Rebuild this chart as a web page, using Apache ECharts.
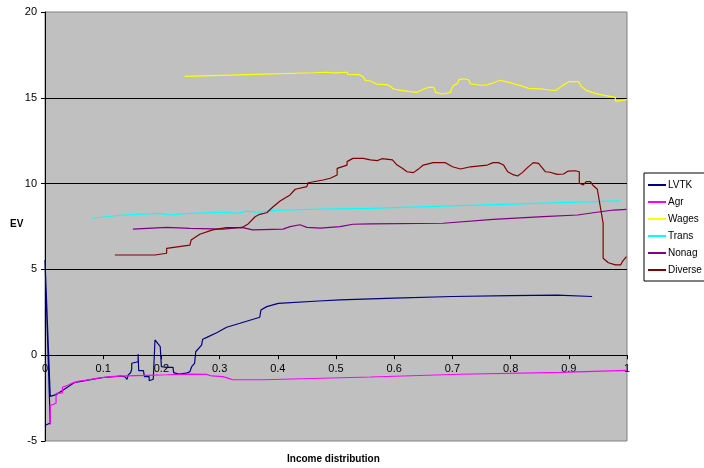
<!DOCTYPE html>
<html>
<head>
<meta charset="utf-8">
<script src="https://cdn.jsdelivr.net/npm/echarts@6/dist/echarts.min.js"></script>
<style>
  html, body { margin: 0; padding: 0; background: #ffffff; }
  #chart { width: 704px; height: 468px; }
</style>
</head>
<body>
<div id="chart"></div>
<script>
// Equivalent variation (EV) by income distribution, one line per household group.
const seriesNames = ['LVTK', 'Agr', 'Wages', 'Trans', 'Nonag', 'Diverse'];
const seriesColors = ['#000080', '#ff00ff', '#ffff00', '#00ffff', '#800080', '#800000'];

const xTicks = { min: 0, max: 1, step: 0.1 };
const yTicks = { min: -5, max: 20, step: 5 };

const lvtk = [
  [0, -4.1], [0.009, -3.95], [0, 5.55], [0.009, -2.4], [0.019, -2.3],
  [0.05, -1.6], [0.1, -1.3], [0.13, -1.22], [0.137, -1.25], [0.141, -1.40],
  [0.143, -1.15], [0.147, -1.02], [0.149, -0.82], [0.149, -0.47], [0.152, -0.38],
  [0.160, -0.38], [0.160, 0.07], [0.161, -0.90], [0.169, -0.90], [0.171, -1.25],
  [0.179, -1.25], [0.179, -1.49], [0.186, -1.40], [0.189, -1.40], [0.189, 0.89],
  [0.198, 0.50], [0.200, -0.67], [0.209, -0.71], [0.220, -0.71], [0.221, -1.02],
  [0.230, -1.10], [0.243, -1.05], [0.249, -0.96], [0.252, -0.67], [0.257, -0.47],
  [0.259, 0.20], [0.269, 0.59], [0.271, 0.93], [0.278, 1.04], [0.295, 1.31],
  [0.312, 1.63], [0.335, 1.86], [0.369, 2.21], [0.371, 2.63], [0.381, 2.83],
  [0.401, 3.02], [0.470, 3.16], [0.507, 3.22], [0.6, 3.33], [0.7, 3.42],
  [0.8, 3.47], [0.88, 3.5], [0.94, 3.42]
];

const agr = [
  [0.009, -4.05], [0.009, -2.93], [0.019, -2.80], [0.019, -2.22], [0.030, -2.19],
  [0.030, -1.87], [0.040, -1.74], [0.048, -1.61], [0.059, -1.51], [0.071, -1.45],
  [0.088, -1.35], [0.112, -1.25], [0.140, -1.21], [0.174, -1.17], [0.209, -1.14],
  [0.249, -1.10], [0.278, -1.12], [0.286, -1.21], [0.306, -1.25], [0.318, -1.38],
  [0.323, -1.43], [0.375, -1.43], [0.559, -1.27], [0.714, -1.11], [0.886, -1.00],
  [1.0, -0.88]
];

const wages = [
  [0.240, 16.25], [0.364, 16.37], [0.461, 16.46], [0.484, 16.49], [0.498, 16.45],
  [0.519, 16.49], [0.520, 16.37], [0.539, 16.35], [0.547, 16.23], [0.550, 16.02],
  [0.559, 15.98], [0.570, 15.80], [0.590, 15.75], [0.599, 15.51], [0.610, 15.45],
  [0.628, 15.36], [0.639, 15.32], [0.650, 15.50], [0.659, 15.61], [0.668, 15.61],
  [0.671, 15.32], [0.682, 15.22], [0.696, 15.30], [0.701, 15.69], [0.709, 15.84],
  [0.711, 16.04], [0.719, 16.11], [0.728, 16.04], [0.731, 15.82], [0.748, 15.73],
  [0.760, 15.75], [0.771, 15.88], [0.782, 16.02], [0.797, 15.90], [0.800, 15.80],
  [0.817, 15.71], [0.831, 15.55], [0.857, 15.50], [0.877, 15.41], [0.889, 15.71],
  [0.900, 15.94], [0.917, 15.94], [0.920, 15.71], [0.929, 15.45], [0.940, 15.32],
  [0.952, 15.20], [0.980, 15.03], [0.980, 14.81], [0.989, 14.83], [1.0, 14.91]
];

const trans = [
  [0.080, 7.98], [0.134, 8.17], [0.197, 8.27], [0.214, 8.17], [0.249, 8.27],
  [0.306, 8.33], [0.331, 8.27], [0.347, 8.40], [0.364, 8.33], [0.392, 8.42],
  [0.409, 8.46], [0.478, 8.52], [0.559, 8.56], [0.770, 8.77], [0.989, 8.99]
];

const nonag = [
  [0.151, 7.35], [0.209, 7.45], [0.249, 7.39], [0.306, 7.35], [0.338, 7.45],
  [0.340, 7.34], [0.357, 7.30], [0.409, 7.35], [0.421, 7.49], [0.438, 7.60],
  [0.450, 7.45], [0.473, 7.41], [0.507, 7.49], [0.529, 7.63], [0.559, 7.65],
  [0.684, 7.69], [0.770, 7.92], [0.856, 8.07], [0.915, 8.17], [0.942, 8.30],
  [0.977, 8.46], [0.999, 8.50]
];

const diverse = [
  [0.120, 5.84], [0.189, 5.84], [0.209, 5.94], [0.209, 6.23], [0.249, 6.42],
  [0.251, 6.71], [0.266, 7.05], [0.288, 7.30], [0.312, 7.43], [0.338, 7.43],
  [0.349, 7.65], [0.361, 8.07], [0.369, 8.21], [0.381, 8.30], [0.392, 8.65],
  [0.404, 8.99], [0.421, 9.34], [0.430, 9.67], [0.450, 9.82], [0.452, 10.05],
  [0.478, 10.21], [0.490, 10.31], [0.502, 10.50], [0.502, 10.89], [0.519, 11.08],
  [0.519, 11.28], [0.529, 11.47], [0.547, 11.47], [0.559, 11.38], [0.571, 11.34],
  [0.579, 11.45], [0.597, 11.38], [0.605, 11.08], [0.614, 10.89], [0.622, 10.69],
  [0.633, 10.64], [0.641, 10.83], [0.650, 11.08], [0.667, 11.22], [0.688, 11.22],
  [0.700, 10.98], [0.714, 10.85], [0.731, 10.98], [0.760, 11.08], [0.770, 11.22],
  [0.779, 11.22], [0.788, 11.08], [0.795, 10.69], [0.803, 10.54], [0.812, 10.44],
  [0.820, 10.64], [0.829, 10.93], [0.839, 11.22], [0.848, 11.18], [0.860, 10.69],
  [0.868, 10.66], [0.880, 10.54], [0.891, 10.56], [0.899, 10.73], [0.911, 10.75],
  [0.918, 10.69], [0.918, 10.02], [0.925, 9.92], [0.930, 10.11], [0.937, 10.11],
  [0.941, 9.92], [0.949, 9.67], [0.959, 7.69], [0.959, 5.65], [0.968, 5.39],
  [0.980, 5.26], [0.989, 5.26], [0.992, 5.45], [0.999, 5.74]
];

const seriesData = [lvtk, agr, wages, trans, nonag, diverse];

const FONT = 'Liberation Sans, Arial, sans-serif';
const chart = echarts.init(document.getElementById('chart'), null, { renderer: 'canvas' });

chart.setOption({
  animation: false,
  backgroundColor: '#ffffff',
  textStyle: { fontFamily: FONT, color: '#000' },
  grid: {
    left: 45, right: 77, top: 12, bottom: 27,
    show: true, backgroundColor: '#c0c0c0', borderColor: '#808080', borderWidth: 1
  },
  xAxis: {
    type: 'value',
    min: xTicks.min, max: xTicks.max, interval: xTicks.step,
    axisLine: { show: true, onZero: false, lineStyle: { color: '#000', width: 1 } },
    axisTick: { show: true, inside: false, length: 4, lineStyle: { color: '#000' } },
    axisLabel: { margin: 8, fontSize: 11, color: '#000', fontFamily: FONT },
    splitLine: { show: false }
  },
  yAxis: {
    type: 'value',
    min: yTicks.min, max: yTicks.max, interval: yTicks.step,
    axisLine: { show: true, lineStyle: { color: '#000', width: 1 } },
    axisTick: { show: true, inside: false, length: 4, lineStyle: { color: '#000' } },
    axisLabel: { margin: 8, fontSize: 11, color: '#000', fontFamily: FONT },
    splitLine: { show: true, showMinLine: false, showMaxLine: false, lineStyle: { color: '#000', width: 1 } }
  },
  legend: {
    orient: 'vertical',
    left: 644, top: 173,
    padding: [6, 4, 5, 4],
    itemGap: 5,
    itemWidth: 18,
    itemHeight: 2,
    icon: 'rect',
    borderColor: '#000', borderWidth: 1,
    backgroundColor: '#ffffff',
    data: seriesNames,
    textStyle: { fontSize: 10, color: '#000', fontFamily: FONT, lineHeight: 12, padding: [0, 0, 0, -3] }
  },
  graphic: [{
    type: 'text',
    left: 10,
    top: 219,
    style: { text: 'EV', font: 'bold 10px ' + FONT, fill: '#000' }
  }, {
    type: 'text',
    left: 287,
    top: 454,
    style: { text: 'Income distribution', font: 'bold 10px ' + FONT, fill: '#000' }
  }],
  series: seriesNames.map((name, i) => ({
    name: name,
    type: 'line',
    data: seriesData[i],
    symbol: 'none',
    color: seriesColors[i],
    lineStyle: { width: 1.2, color: seriesColors[i] },
    emphasis: { disabled: true }
  }))
});

// Lift the whole x axis (line, ticks, labels) up to the y = 0 level.
const zeroY = chart.convertToPixel({ yAxisIndex: 0 }, 0);
const bottomY = chart.convertToPixel({ yAxisIndex: 0 }, yTicks.min);
chart.setOption({ xAxis: { offset: -(bottomY - zeroY) } });
</script>
</body>
</html>
